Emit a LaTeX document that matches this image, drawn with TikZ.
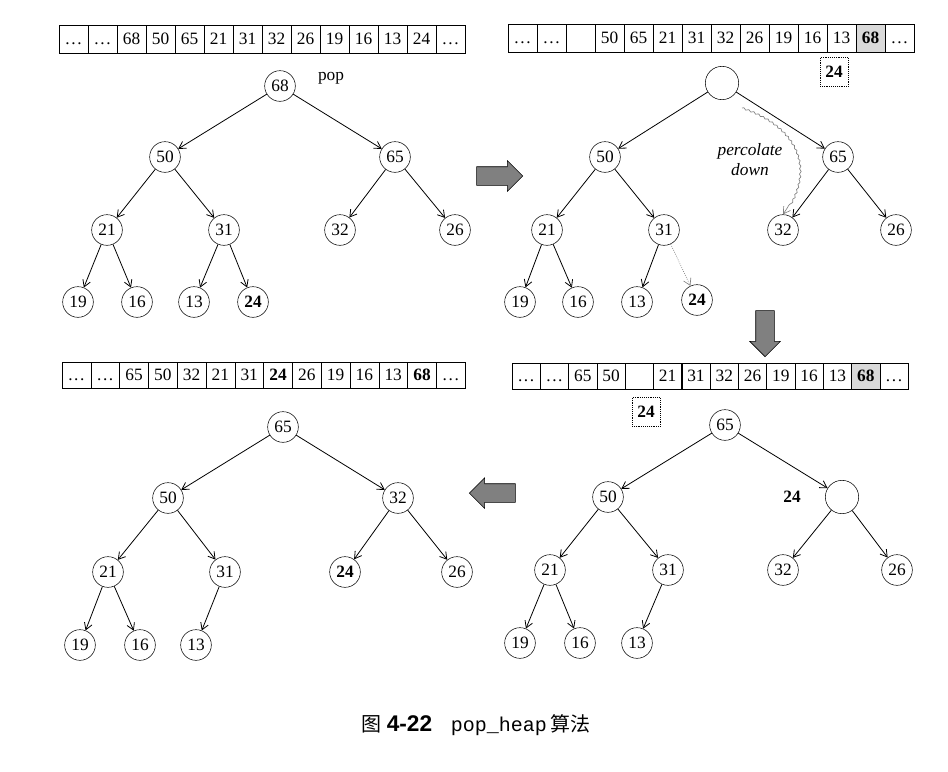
\documentclass[tikz,border=0pt]{standalone}
\usepackage{fontspec}
\setmainfont{Liberation Serif}
\setmonofont{Liberation Mono}
\newfontfamily\cjkfont{Noto Sans CJK SC}
\newfontfamily\capfont{Liberation Sans}
\usetikzlibrary{positioning, arrows.meta, shapes.arrows, decorations.pathmorphing}

\newcommand{\dts}{.\kern1.2pt.\kern1.2pt.}

\tikzset{
  hnode/.style={circle, draw, minimum size=23pt, inner sep=0pt, font=\fontsize{13}{15}\selectfont},
  hole/.style={circle, draw, minimum size=25pt, inner sep=0pt},
  cell/.style={draw, minimum width=21.75pt, minimum height=21pt, inner sep=0pt, text height=8.6pt,
    text depth=0pt, font=\fontsize{13}{15}\selectfont},
  hlcell/.style={cell, fill=black!15},
  holdbox/.style={draw, densely dotted, minimum width=21pt, minimum height=22pt, inner sep=0pt, font=\bfseries\fontsize{13}{15}\selectfont},
  edge/.style={-{Straight Barb[length=5pt,width=6pt]}, line width=0.6pt},
  bigarrow/.style={single arrow, draw, fill=black!50, minimum height=34.5pt, inner xsep=0pt,
    inner ysep=6.75pt, single arrow head extend=4.5pt, single arrow head indent=0pt},
}

\begin{document}
\begin{tikzpicture}[x=0.75pt,y=0.75pt,yscale=-1,xscale=1]
\useasboundingbox (0,0) rectangle (948,771);

% Array: top left
\foreach \v/\s [count=\i] in {\dts/cell, \dts/cell, 68/cell, 50/cell, 65/cell, 21/cell, 31/cell,
    32/cell, 26/cell, 19/cell, 16/cell, 13/cell, 24/cell, \dts/cell}
  \node[\s] (ta\i) at ({59+29*(\i-0.5)},39) {\v};

% Array: top right
\foreach \v/\s [count=\i] in {\dts/cell, \dts/cell, {}/cell, 50/cell, 65/cell, 21/cell, 31/cell,
    32/cell, 26/cell, 19/cell, 16/cell, 13/cell, {\textbf{68}}/hlcell, \dts/cell}
  \node[\s] (tb\i) at ({508+29*(\i-0.5)},38) {\v};
\node[holdbox] (hold1) at (834,72) {24};

% Array: bottom right
\foreach \v/\s [count=\i] in {\dts/cell, \dts/cell, 65/cell, 50/cell, {}/cell, 21/cell, 31/cell,
    32/cell, 26/cell, 19/cell, 16/cell, 13/cell, {\textbf{68}}/hlcell, \dts/cell}
  \node[\s, minimum width=21.3pt, minimum height=19.5pt] (bb\i) at ({512+28.3*(\i-0.5)},376) {\v};
\node[holdbox] (hold2) at (646,412) {24};

% Array: bottom left
\foreach \v/\s [count=\i] in {\dts/cell, \dts/cell, 65/cell, 50/cell, 32/cell, 21/cell, 31/cell,
    {\textbf{24}}/cell, 26/cell, 19/cell, 16/cell, 13/cell, {\textbf{68}}/cell, \dts/cell}
  \node[\s, minimum width=21.6pt, minimum height=19.5pt] (ba\i) at ({62+28.8*(\i-0.5)},375) {\v};

% Tree: top left
\node[hnode] (t68) at (280,86) {68};
\node[hnode] (t50) at (165,157) {50};
\node[hnode] (t65) at (395,157) {65};
\node[hnode] (t21) at (107,230) {21};
\node[hnode] (t31) at (224,230) {31};
\node[hnode] (t32) at (340,230) {32};
\node[hnode] (t26) at (455,230) {26};
\node[hnode] (t19) at (78,302) {19};
\node[hnode] (t16) at (137,302) {16};
\node[hnode] (t13) at (194,302) {13};
\node[hnode] (t24) at (253,302) {\textbf{24}};
\node[font=\fontsize{13}{15}\selectfont] (pop) at (331,78) {pop};
\draw[edge] (t68) -- (t50);
\draw[edge] (t68) -- (t65);
\draw[edge] (t50) -- (t21);
\draw[edge] (t50) -- (t31);
\draw[edge] (t65) -- (t32);
\draw[edge] (t65) -- (t26);
\draw[edge] (t21) -- (t19);
\draw[edge] (t21) -- (t16);
\draw[edge] (t31) -- (t13);
\draw[edge] (t31) -- (t24);

% Tree: top right
\node[hole] (r0) at (722,83) {};
\node[hnode] (r50) at (605,157) {50};
\node[hnode] (r65) at (838,157) {65};
\node[hnode] (r21) at (547,230) {21};
\node[hnode] (r31) at (664,230) {31};
\node[hnode] (r32) at (783,230) {32};
\node[hnode] (r26) at (896,230) {26};
\node[hnode] (r19) at (520,302) {19};
\node[hnode] (r16) at (578,302) {16};
\node[hnode] (r13) at (637,302) {13};
\node[hnode] (r24) at (697,300) {\textbf{24}};
\draw[edge] (r0) -- (r50);
\draw[edge] (r0) -- (r65);
\draw[edge] (r50) -- (r21);
\draw[edge] (r50) -- (r31);
\draw[edge] (r65) -- (r32);
\draw[edge] (r65) -- (r26);
\draw[edge] (r21) -- (r19);
\draw[edge] (r21) -- (r16);
\draw[edge] (r31) -- (r13);
\draw[edge, gray, densely dotted, line width=0.5pt] (r31) -- (r24);
% percolate down
\coordinate (pd) at (742,108);
\draw[-{Straight Barb[length=5pt,width=6pt]}, gray, line width=0.5pt,
  decorate, decoration={snake, amplitude=0.6pt, segment length=4pt, post length=6pt}]
  (pd) .. controls (792,125) and (818,165) .. (r32.north);
\node[font=\itshape\fontsize{13}{15}\selectfont, align=center, inner sep=0pt] (perc) at (750,160)
  {percolate\\down};

% Tree: bottom right
\node[hnode] (s65) at (725,425) {65};
\node[hnode] (s50) at (608,497) {50};
\node[hole] (s0) at (842,497) {};
\node[hnode] (s21) at (550,570) {21};
\node[hnode] (s31) at (668,570) {31};
\node[hnode] (s32) at (783,570) {32};
\node[hnode] (s26) at (897,570) {26};
\node[hnode] (s19) at (520,643) {19};
\node[hnode] (s16) at (580,643) {16};
\node[hnode] (s13) at (637,643) {13};
\node[font=\bfseries\fontsize{13}{15}\selectfont] (lbl24) at (792,497) {24};
\draw[edge] (s65) -- (s50);
\draw[edge] (s65) -- (s0);
\draw[edge] (s50) -- (s21);
\draw[edge] (s50) -- (s31);
\draw[edge] (s0) -- (s32);
\draw[edge] (s0) -- (s26);
\draw[edge] (s21) -- (s19);
\draw[edge] (s21) -- (s16);
\draw[edge] (s31) -- (s13);

% Tree: bottom left
\node[hnode] (l65) at (283,427) {65};
\node[hnode] (l50) at (168,498) {50};
\node[hnode] (l32) at (398,498) {32};
\node[hnode] (l21) at (108,572) {21};
\node[hnode] (l31) at (225,572) {31};
\node[hnode] (l24) at (345,572) {\textbf{24}};
\node[hnode] (l26) at (457,572) {26};
\node[hnode] (l19) at (80,645) {19};
\node[hnode] (l16) at (140,645) {16};
\node[hnode] (l13) at (196,645) {13};
\draw[edge] (l65) -- (l50);
\draw[edge] (l65) -- (l32);
\draw[edge] (l50) -- (l21);
\draw[edge] (l50) -- (l31);
\draw[edge] (l32) -- (l24);
\draw[edge] (l32) -- (l26);
\draw[edge] (l21) -- (l19);
\draw[edge] (l21) -- (l16);
\draw[edge] (l31) -- (l13);

% Step arrows
\node[bigarrow] (step1) at (495,176) {};
\node[bigarrow, shape border rotate=270, inner xsep=6.75pt, inner ysep=0pt] (step2) at (765,329) {};
\node[bigarrow, shape border rotate=180] (step3) at (497,493) {};

% Caption
\node[font=\fontsize{15}{18}\selectfont] (cap) at (476,725)
  {{\cjkfont 图}\ {\capfont\bfseries\fontsize{17}{18}\selectfont 4-22}\hspace{14pt}\texttt{pop\_heap}\,{\cjkfont 算法}};

\end{tikzpicture}
\end{document}
